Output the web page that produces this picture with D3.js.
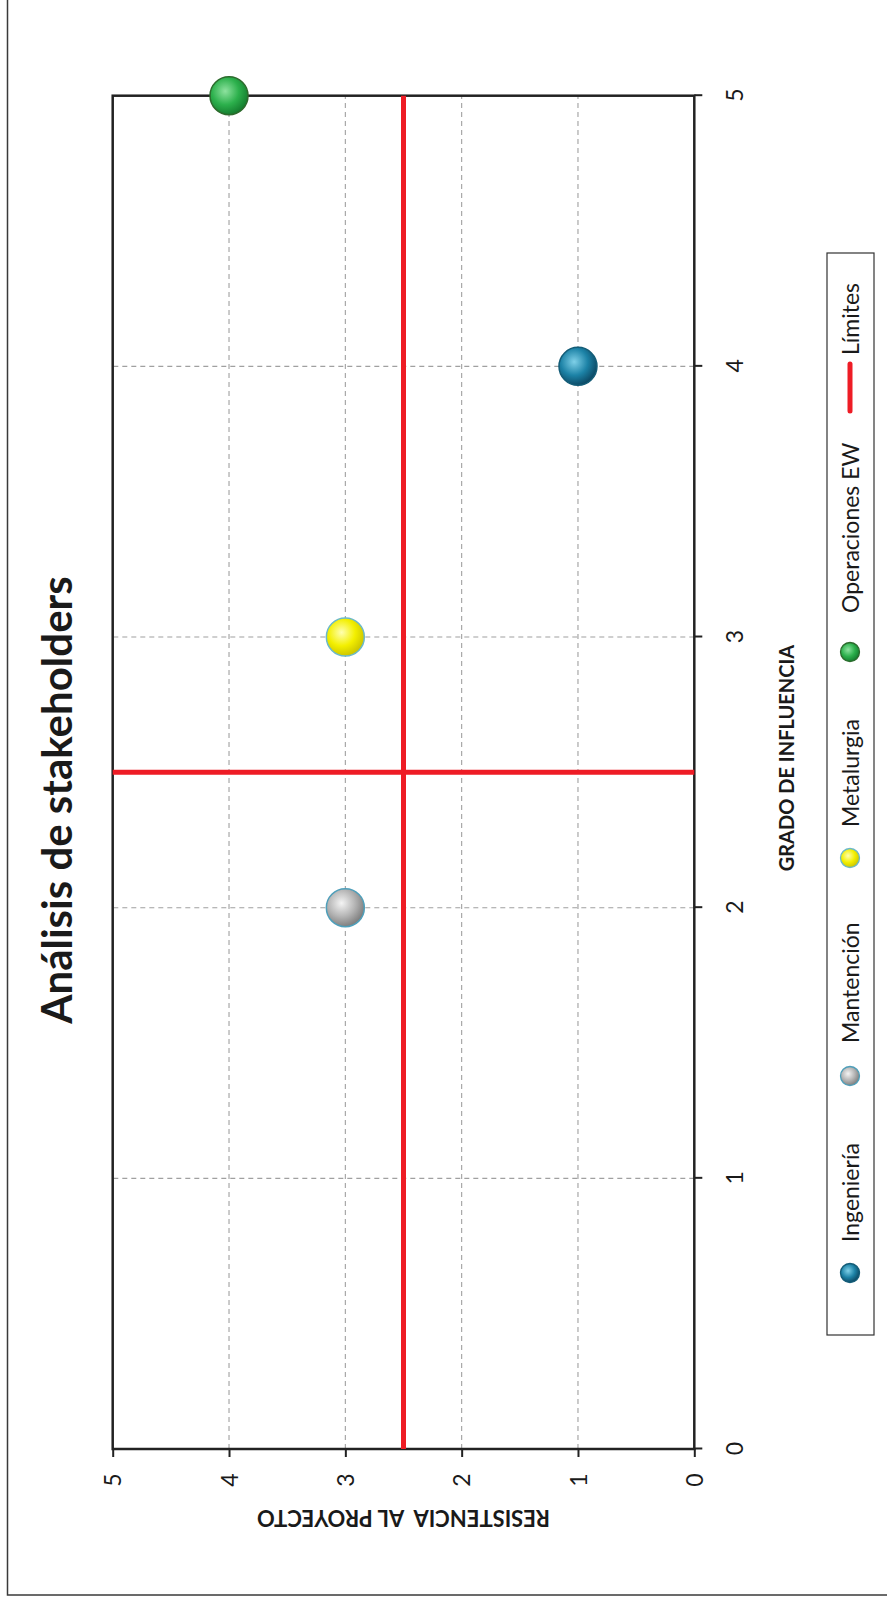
<!DOCTYPE html>
<html>
<head>
<meta charset="utf-8">
<script src="https://cdn.jsdelivr.net/npm/d3@7"></script>
<style>
  html, body { margin: 0; padding: 0; background: #fff; }
  svg { display: block; }
  text { font-family: Lato, "Open Sans", sans-serif; fill: #1a1a1a; }
</style>
</head>
<body>
<div id="chart"></div>
<script>
// ---- data ----
const chartTitle = "Análisis de stakeholders";
const xTitle = "GRADO DE INFLUENCIA";
const yTitle = "RESISTENCIA  AL PROYECTO";
const categories = ["Ingeniería", "Mantención", "Metalurgia", "Operaciones EW"];
const influencia = [4, 2, 3, 5];      // x: grado de influencia
const resistencia = [1, 3, 3, 4];     // y: resistencia al proyecto
const limitesName = "Límites";
const limitesX = [[0, 5], [2.5, 2.5]];      // each segment: x from, x to
const limitesY = [[2.5, 2.5], [0, 5]];      // each segment: y from, y to
const xTicks = [0, 1, 2, 3, 4, 5];
const yTicks = [0, 1, 2, 3, 4, 5];

// ---- styles ----
const markerStyles = [
  { light: "#7fd0e8", base: "#1c82a6", dark: "#0b4560", stroke: "#145d78" },
  { light: "#f4f4f4", base: "#b4b4b4", dark: "#7a7a7a", stroke: "#4f9fba" },
  { light: "#ffffb0", base: "#f3ef00", dark: "#c9c200", stroke: "#6cb9c9" },
  { light: "#8ee29f", base: "#2cb04c", dark: "#137a2d", stroke: "#2d6b2d" }
];
const limitColor = "#ee1c25";

// The chart is laid out landscape (1604 x 887) and turned a quarter turn
// counter-clockwise to fill the portrait page.
const PAGE_W = 887, PAGE_H = 1604;
const W = PAGE_H, H = PAGE_W;

const svg = d3.select("#chart").append("svg")
  .attr("width", PAGE_W).attr("height", PAGE_H);
svg.append("rect").attr("width", PAGE_W).attr("height", PAGE_H).attr("fill", "#fff");

const defs = svg.append("defs");
markerStyles.forEach((s, i) => {
  const gr = defs.append("radialGradient").attr("id", "ball" + i)
    .attr("cx", "0.62").attr("cy", "0.4").attr("r", "0.65")
    .attr("fx", "0.62").attr("fy", "0.4");
  gr.append("stop").attr("offset", "0%").attr("stop-color", s.light);
  gr.append("stop").attr("offset", "55%").attr("stop-color", s.base);
  gr.append("stop").attr("offset", "100%").attr("stop-color", s.dark);
});

const g = svg.append("g").attr("transform", `translate(0,${PAGE_H}) rotate(-90)`);

// outer frame
g.append("rect")
  .attr("x", 9).attr("y", 7.5).attr("width", W + 50).attr("height", H + 50)
  .attr("fill", "none").attr("stroke", "#3a3a3a").attr("stroke-width", 1.5);

const plot = { left: 155, right: 1508.3, top: 112.7, bottom: 694.3 };

const x = d3.scaleLinear().domain([0, 5]).range([plot.left, plot.right]);
const y = d3.scaleLinear().domain([0, 5]).range([plot.bottom, plot.top]);

// gridlines
const grid = g.append("g").attr("stroke", "#a0a0a0").attr("stroke-width", 1.1)
  .attr("stroke-dasharray", "5,4");
grid.selectAll("line.gx").data(xTicks.filter(t => t > 0 && t < 5)).join("line")
  .attr("class", "gx")
  .attr("x1", d => x(d)).attr("x2", d => x(d))
  .attr("y1", y(0)).attr("y2", y(5));
grid.selectAll("line.gy").data(yTicks.filter(t => t > 0 && t < 5)).join("line")
  .attr("class", "gy")
  .attr("x1", x(0)).attr("x2", x(5))
  .attr("y1", d => y(d)).attr("y2", d => y(d));

// axes
const xAxis = d3.axisBottom(x).tickValues(xTicks).tickSize(8).tickSizeOuter(0).tickFormat(d3.format("d"));
const yAxis = d3.axisLeft(y).tickValues(yTicks).tickSize(8).tickSizeOuter(0).tickFormat(d3.format("d"));

const gx = g.append("g").attr("transform", `translate(0,${y(0)})`).call(xAxis);
const gy = g.append("g").attr("transform", `translate(${x(0)},0)`).call(yAxis);
[gx, gy].forEach(a => {
  a.select(".domain").remove();
  a.selectAll(".tick line").attr("stroke", "#222").attr("stroke-width", 2);
  a.selectAll(".tick text").attr("font-size", 23).attr("fill", "#1a1a1a")
    .attr("font-family", "Lato, sans-serif");
});
gx.selectAll(".tick text").attr("y", 735 - plot.bottom).attr("dy", "0.35em");
gy.selectAll(".tick text").attr("x", 124 - plot.left).attr("dy", "0.35em")
  .attr("text-anchor", "middle");

// plot border
g.append("rect")
  .attr("x", plot.left).attr("y", plot.top)
  .attr("width", plot.right - plot.left).attr("height", plot.bottom - plot.top)
  .attr("fill", "none").attr("stroke", "#222").attr("stroke-width", 2.5);

// limit lines
const limitLine = d3.line().x(d => x(d[0])).y(d => y(d[1]));
g.selectAll("path.limite").data(limitesX.map((xs, i) => [[xs[0], limitesY[i][0]], [xs[1], limitesY[i][1]]]))
  .join("path").attr("class", "limite")
  .attr("d", limitLine)
  .attr("fill", "none").attr("stroke", limitColor).attr("stroke-width", 5);

// stakeholder markers
g.selectAll("circle.pt").data(categories).join("circle")
  .attr("class", "pt")
  .attr("cx", (d, i) => x(influencia[i]))
  .attr("cy", (d, i) => y(resistencia[i]))
  .attr("r", 19)
  .attr("fill", (d, i) => `url(#ball${i})`)
  .attr("stroke", (d, i) => markerStyles[i].stroke)
  .attr("stroke-width", 1.5);

// title
g.append("text")
  .attr("x", 804).attr("y", 72)
  .attr("text-anchor", "middle")
  .attr("font-size", 42).attr("font-weight", 700)
  .text(chartTitle);

// axis titles
g.append("text")
  .attr("x", 846).attr("y", 794)
  .attr("text-anchor", "middle")
  .attr("font-size", 20).attr("font-weight", 700)
  .text(xTitle);
g.append("text")
  .attr("transform", `translate(94,${(plot.top + plot.bottom) / 2}) rotate(-90)`)
  .attr("text-anchor", "middle")
  .attr("font-size", 22).attr("font-weight", 700)
  .attr("xml:space", "preserve").style("white-space", "pre")
  .text(yTitle);

// legend
const legend = g.append("g");
legend.append("rect")
  .attr("x", 269).attr("y", 827).attr("width", 1082).attr("height", 47)
  .attr("fill", "#fff").attr("stroke", "#333").attr("stroke-width", 1.2);
const legendMarkerX = [331, 528, 746, 952];
const legendTextX = [362, 561, 777, 991];
categories.forEach((c, i) => {
  legend.append("circle")
    .attr("cx", legendMarkerX[i]).attr("cy", 850).attr("r", 9.5)
    .attr("fill", `url(#ball${i})`)
    .attr("stroke", markerStyles[i].stroke).attr("stroke-width", 1.3);
  legend.append("text")
    .attr("x", legendTextX[i]).attr("y", 859)
    .attr("font-size", 23)
    .text(c);
});
legend.append("line")
  .attr("x1", 1193).attr("x2", 1240).attr("y1", 850).attr("y2", 850)
  .attr("stroke", limitColor).attr("stroke-width", 5).attr("stroke-linecap", "round");
legend.append("text")
  .attr("x", 1249).attr("y", 859)
  .attr("font-size", 23)
  .text(limitesName);
</script>
</body>
</html>
